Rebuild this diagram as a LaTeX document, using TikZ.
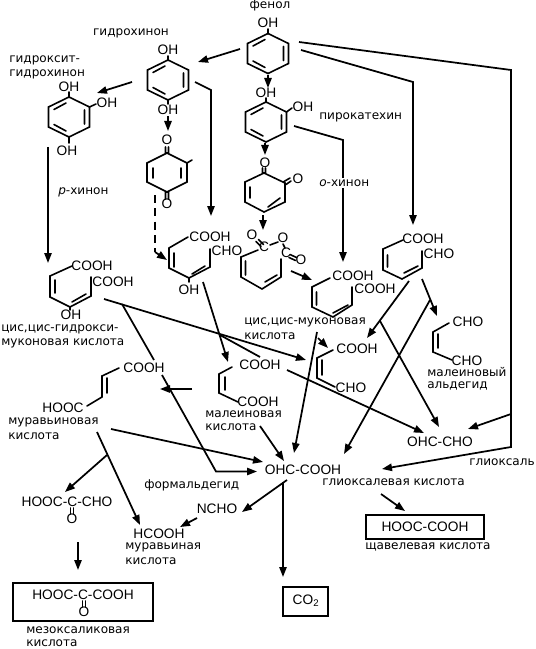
\documentclass[tikz,border=0pt]{standalone}
\usepackage{fontspec}
\setmainfont{DejaVu Sans}
\newfontfamily\chemfont{Liberation Sans}
\usetikzlibrary{arrows.meta}
\tikzset{
  bond/.style={line width=1.2pt,line join=miter,line cap=round},
  conn/.style={line width=1.3pt,-{Triangle[length=7.5pt,width=5.5pt]}},
  plainconn/.style={line width=1.3pt},
  dashconn/.style={line width=1.5pt,dash pattern=on 6pt off 4pt},
  chem/.style={font=\chemfont\fontsize{10.3}{12}\selectfont,inner sep=0pt,text=black},
  lab/.style={font=\fontsize{9.05}{10}\selectfont,anchor=west,inner sep=0pt,text=black},
  boxed/.style={draw,line width=1.4pt,inner sep=0pt}
}
\newcommand\benzring[2]{%
  \draw[bond,shift={(#1,#2)}] (0,-20)--(20.5,-10)--(20.5,10)--(0,20)--(-20.5,10)--(-20.5,-10)--cycle
    (-15,-7.5)--(-3,-14) (15.5,-7)--(15.5,7) (-15,7.5)--(-3,14);}
\begin{document}
\begin{tikzpicture}[x=0.75pt,y=-0.75pt]
\useasboundingbox (0,0) rectangle (535,649);
% ---- rings
\benzring{268}{53.5}
\benzring{266}{122}
\benzring{168}{80}
\benzring{69}{117}
% stubs of hydroxyls
\draw[bond] (268,29)--(268,33.5) (266,98)--(266,102) (168,56)--(168,60) (168,100)--(168,104)
  (69,92)--(69,97) (89.5,107)--(96,104) (69,137)--(69,143) (286.5,112)--(292,108);
% p-quinone
\draw[bond] (167,153)--(187,163)--(187,182)--(167,192)--(147,182)--(147,163)--cycle
  (153,168)--(153,178) (181,168)--(181,178) (187,163)--(192,160)
  (165.5,147)--(165.5,153) (168.5,147)--(168.5,153) (165.5,192)--(165.5,199) (168.5,192)--(168.5,199);
% o-quinone
\draw[bond] (264,173)--(285,183)--(285,202)--(264,212)--(245,202)--(245,182)--cycle
  (250,187)--(250,198) (268,207)--(280,198)
  (262.5,168)--(262.5,173) (265.5,168)--(265.5,173)
  (284,181.5)--(290,178) (286,184.5)--(291,181);
% anhydride ring
\draw[bond] (258,250)--(241,257)--(241,277)--(262,289)--(281,277)--(281,259)
  (245.5,261)--(245.5,275) (265,282)--(277,275)
  (270,245)--(278,242) (283,244)--(285,248)
  (256,241.5)--(261,246.5) (258.5,239.5)--(263.5,244.5)
  (290,254.5)--(296.5,257.5) (289,257.5)--(295.5,260.5);
% muconic acid
\draw[bond] (330,278)--(312,287)--(312,307)--(333,317)--(352,305)--(352,287)
  (316.5,292)--(316.5,305) (333,313)--(348,305);
% COOH/CHO right ring
\draw[bond] (403,240)--(383,249)--(383,270)--(402,279)--(422,268)--(422,251)
  (387.5,255)--(387.5,267) (404,273)--(418,266);
% maleic aldehyde
\draw[bond] (449,323)--(433,332)--(433,352)--(452,360) (438,334)--(438,348);
% small COOH/CHO
\draw[bond] (333,350)--(317,358)--(317,378)--(335,387) (322,360)--(322,375);
% left ring COOH/COOH/OH
\draw[bond] (72,266)--(50,276)--(50,297)--(70,307)--(91,296)--(91,277)
  (55,280)--(55,293) (72,302)--(86,294) (70,307)--(70,310);
% middle ring COOH/CHO/OH
\draw[bond] (188,237)--(169,248)--(169,268)--(189,278)--(210,267)--(210,249)
  (174,253)--(174,267) (192,274)--(205,266) (189,278)--(189,282);
% fumaric
\draw[bond] (119,368)--(102,376)--(102,397)--(87,406) (107,378)--(107,393);
% maleic
\draw[bond] (232,367)--(219,374)--(219,393)--(238,402) (225,377)--(225,390);
% double bonds of the keto groups
\draw[bond] (70.5,508)--(70.5,514) (73.5,508)--(73.5,514) (82.5,601)--(82.5,607) (85.5,601)--(85.5,607);

% ---- labels and formulae
\node[lab,anchor=center] (fenol) at (270,5) {фенол};
\node[chem] (ohA) at (268,23) {OH};
\node[lab,anchor=center] (hq) at (131,33) {гидрохинон};
\node[chem] (ohB) at (168,50) {OH};
\node[chem] (ohC) at (168,110) {OH};
\node[lab] (hhqa) at (9,60) {гидроксит-};
\node[lab] (hhqb) at (9,74) {гидрохинон};
\node[chem] (ohD) at (69,87) {OH};
\node[chem] (ohE) at (107,103) {OH};
\node[chem] (ohF) at (67,151) {OH};
\node[chem] (oG) at (167,140) {O};
\node[chem] (oH) at (167,204) {O};
\node[lab] (phin) at (58,192) {\textit{p}-хинон};
\node[chem] (ohI) at (266,93) {OH};
\node[chem] (ohJ) at (303,107) {OH};
\node[lab] (pyro) at (319,117) {пирокатехин};
\node[chem] (oK) at (265,163) {O};
\node[chem] (oL) at (298,179) {O};
\node[chem] (oM) at (252,235) {O};
\node[chem] (oN) at (283,238) {O};
\node[chem] (oP) at (301,260) {O};
\node[chem] (cQ) at (264,247) {C};
\node[chem] (cR) at (286,253) {C};
\node[chem] (cooA) at (92,266) {COOH};
\node[chem] (cooB) at (113,282) {COOH};
\node[chem] (ohS) at (71,315) {OH};
\node[lab] (ciga) at (1,329) {цис,цис-гидрокси-};
\node[lab] (cigb) at (1,343) {муконовая кислота};
\node[chem] (cooC) at (210,237) {COOH};
\node[chem] (choC) at (227,251) {CHO};
\node[chem] (ohT) at (189,290) {OH};
\node[chem] (cooD) at (353,276) {COOH};
\node[chem] (cooE) at (375,289) {COOH};
\node[lab] (cmuA) at (244,322) {цис,цис-муконовая};
\node[lab] (cmuB) at (244,336) {кислота};
\node[chem] (cooF) at (423,239) {COOH};
\node[chem] (choF) at (439,254) {CHO};
\node[chem] (choG) at (468,322) {CHO};
\node[chem] (choH) at (467,361) {CHO};
\node[lab] (maldA) at (427,372) {малеиновый};
\node[lab] (maldB) at (427,386) {альдегид};
\node[chem] (cooI) at (357,349) {COOH};
\node[chem] (choI) at (351,388) {CHO};
\node[chem] (cooJ) at (144,368) {COOH};
\node[chem] (hoocJ) at (63,408) {HOOC};
\node[lab] (murA) at (8,422) {муравьиновая};
\node[lab] (murB) at (8,436) {кислота};
\node[chem] (cooK) at (260,365) {COOH};
\node[chem] (cooL) at (258,402) {COOH};
\node[lab] (malA) at (205,414) {малеиновая};
\node[lab] (malB) at (205,427) {кислота};
\node[chem] (oxo) at (303,470) {OHC-COOH};
\node[chem] (glx) at (440,442) {OHC-CHO};
\node[lab] (glxl) at (469,462) {глиоксаль};
\node[lab] (glal) at (322,482) {глиоксалевая кислота};
\node[lab] (form) at (144,485) {формальдегид};
\node[chem] (ncho) at (217,509) {NCHO};
\node[chem] (hcooh) at (159,534) {HCOOH};
\node[lab] (mkA) at (125,547) {муравьиная};
\node[lab] (mkB) at (125,561) {кислота};
\node[chem] (hcc) at (67,502) {HOOC-C-CHO};
\node[chem] (hccO) at (72,519) {O};
\node[chem] (mesoF) at (83,595) {HOOC-C-COOH};
\node[chem] (mesoO) at (84,612) {O};
\node[lab] (mesoA) at (26,630) {мезоксаликовая};
\node[lab] (mesoB) at (26,643.5) {кислота};
\node[lab] (shA) at (365,547) {щавелевая кислота};
\coordinate (boxMa) at (13,583); \coordinate (boxMb) at (153,621);
\draw[boxed] (boxMa) rectangle (boxMb);
\coordinate (boxCa) at (283,587); \coordinate (boxCb) at (328,616);
\draw[boxed] (boxCa) rectangle (boxCb);
\node[chem] (cotwo) at (306,601) {CO\textsubscript{2}};
\coordinate (boxSa) at (366,515); \coordinate (boxSb) at (484,539);
\draw[boxed] (boxSa) rectangle (boxSb);
\node[chem] (oxal) at (425,527) {HOOC-COOH};

% ---- connectors
\coordinate (a1) at (240,49); \coordinate (a2) at (198,62); \draw[conn] (a1)--(a2);
\coordinate (b1) at (132,82); \coordinate (b2) at (97,93); \draw[conn] (b1)--(b2);
\coordinate (c1) at (195,82); \coordinate (c2) at (211,90); \coordinate (c3) at (211,216);
\draw[conn] (c1)--(c2)--(c3);
\coordinate (d1) at (168,116); \coordinate (d2) at (168,131); \draw[conn] (d1)--(d2);
\coordinate (e1) at (155,195); \coordinate (e2) at (155,252); \coordinate (e3) at (167,260);
\draw[dashconn] (e1)--(e2); \draw[conn] (e2)--(e3);
\coordinate (f1) at (48,147); \coordinate (f2) at (48,263); \draw[conn] (f1)--(f2);
\coordinate (g1) at (268,75); \coordinate (g2) at (268,88); \draw[conn] (g1)--(g2);
\coordinate (h1) at (265,143); \coordinate (h2) at (265,155); \draw[conn] (h1)--(h2);
\coordinate (i1) at (263,215); \coordinate (i2) at (263,230); \draw[conn] (i1)--(i2);
\coordinate (j1) at (299,42); \coordinate (j2) at (511,70); \coordinate (j3) at (511,447); \coordinate (j4) at (382,469);
\draw[conn] (j1)--(j2)--(j3)--(j4);
\coordinate (j5) at (511,414); \coordinate (j6) at (468,429); \draw[conn] (j5)--(j6);
\coordinate (k1) at (301,50); \coordinate (k2) at (413,82); \coordinate (k3) at (413,225);
\draw[conn] (k1)--(k2)--(k3);
\coordinate (l1) at (294,126); \coordinate (l2) at (343,140); \coordinate (l3) at (343,262);
\draw[conn] (l1)--(l2)--(l3);
\node[lab,fill=white,inner ysep=1pt] (ohin) at (319,183) {\textit{o}-хинон};
\coordinate (m1) at (291,271); \coordinate (m2) at (312,280); \draw[conn] (m1)--(m2);
\coordinate (n1) at (104,299); \coordinate (n2) at (306,360); \draw[conn] (n1)--(n2);
\coordinate (o1) at (122,304); \coordinate (o2) at (154,360); \draw[plainconn] (o1)--(o2);
\coordinate (o3) at (162,375); \coordinate (o4) at (216,471.5); \coordinate (o5) at (257,471.5);
\draw[conn] (o3)--(o4)--(o5);
\coordinate (p1) at (192,389); \coordinate (p2) at (160,389); \draw[conn] (p1)--(p2);
\coordinate (q1) at (203,282); \coordinate (q2) at (228,362); \draw[conn] (q1)--(q2);
\coordinate (r1) at (220,335); \coordinate (r2) at (260,357); \draw[plainconn] (r1)--(r2);
\coordinate (r3) at (287,370); \coordinate (r4) at (424,433); \draw[conn] (r3)--(r4);
\coordinate (s1) at (317,332); \coordinate (s2) at (294,453); \draw[conn] (s1)--(s2);
\coordinate (t1) at (318,338); \coordinate (t2) at (328,348); \draw[conn] (t1)--(t2);
\coordinate (u1) at (260,426); \coordinate (u2) at (284,461); \draw[conn] (u1)--(u2);
\coordinate (v1) at (409,281); \coordinate (v2) at (367,338); \draw[conn] (v1)--(v2);
\coordinate (v3) at (380,321); \coordinate (v4) at (439,427); \draw[conn] (v3)--(v4);
\coordinate (w1) at (422,279); \coordinate (w2) at (437,316); \draw[conn] (w1)--(w2);
\coordinate (w3) at (430,300); \coordinate (w4) at (344,454); \draw[conn] (w3)--(w4);
\coordinate (x1) at (111,429); \coordinate (x2) at (263,462); \draw[conn] (x1)--(x2);
\coordinate (y1) at (97,432); \coordinate (y2) at (140,525); \draw[conn] (y1)--(y2);
\coordinate (y3) at (107,455); \coordinate (y4) at (65,492); \draw[conn] (y3)--(y4);
\coordinate (z1) at (78,542); \coordinate (z2) at (78,570); \draw[conn] (z1)--(z2);
\coordinate (aa1) at (287,480); \coordinate (aa2) at (242,512); \draw[conn] (aa1)--(aa2);
\coordinate (ab1) at (197,518); \coordinate (ab2) at (180,527); \draw[conn] (ab1)--(ab2);
\coordinate (ac1) at (283,482); \coordinate (ac2) at (283,577); \draw[conn] (ac1)--(ac2);
\coordinate (ad1) at (381,494); \coordinate (ad2) at (405,511); \draw[conn] (ad1)--(ad2);
\end{tikzpicture}
\end{document}
